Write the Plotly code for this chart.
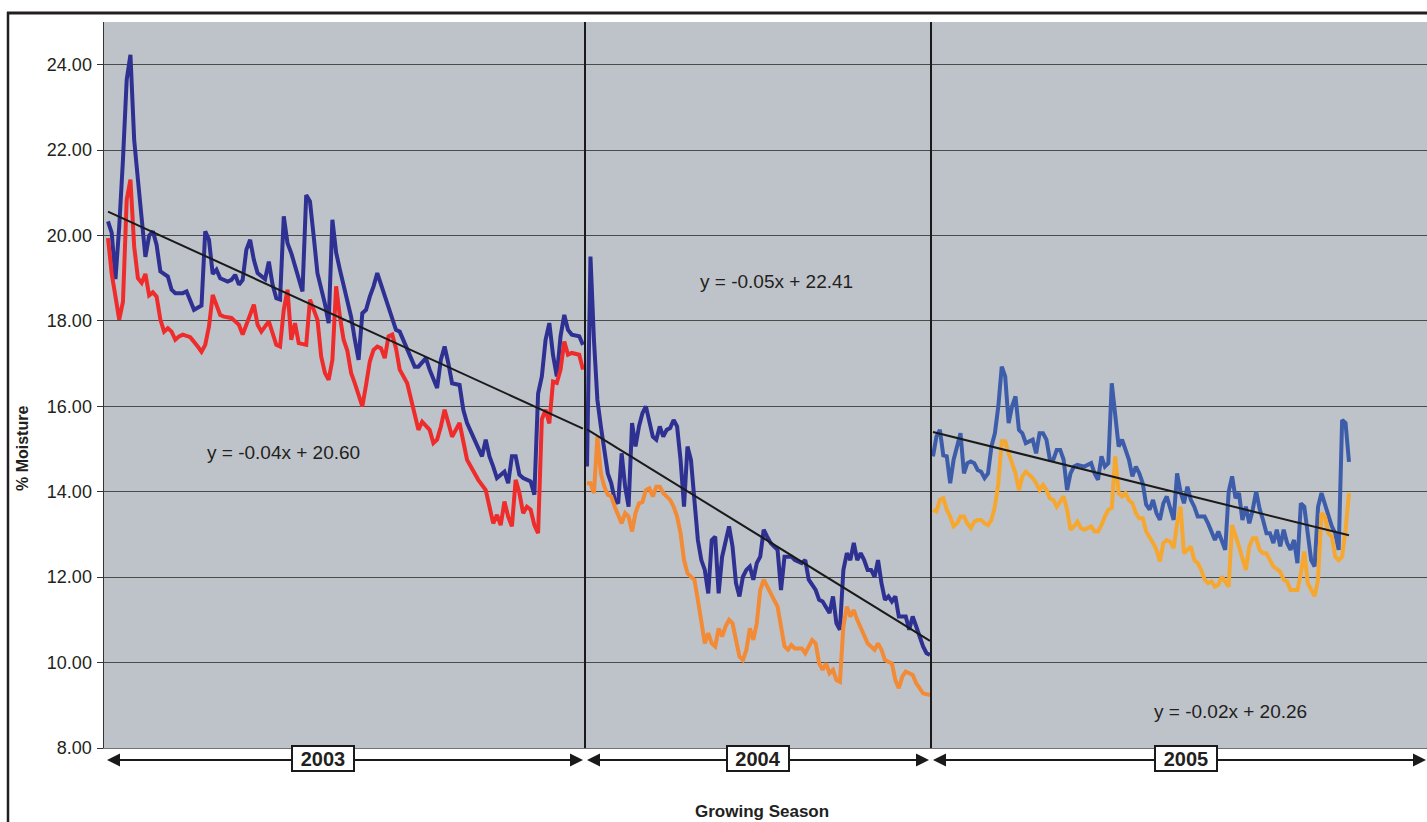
import plotly.graph_objects as go

# ---------------------------------------------------------------
# Soil moisture (%) by day of growing season, two probes (A upper, B lower)
# x = running day index used by the linear trend fits
# ---------------------------------------------------------------

# ---- 2003 ----
a_days_2003 = [1, 2, 3, 4, 5, 6, 7, 8, 9, 10, 11, 12, 13, 14, 15,
               17, 18, 19,
               21, 22, 23, 24,
               26, 27, 28, 29, 30, 31,
               33, 34, 35, 36, 37, 38, 39, 40, 41,
               43, 44, 45, 46, 47, 48, 49, 50,
               52, 53, 54, 55, 56, 57,
               59, 60, 61, 62, 63, 64, 65, 66, 67, 68, 69, 70, 71, 72, 73,
               75, 76, 77, 78, 79,
               81,
               83, 84,
               86, 87,
               89, 90, 91, 92, 93,
               95, 96, 97,
               99, 100, 101, 102, 103, 104, 105,
               107, 108, 109, 110, 111, 112,
               114, 115, 116, 117, 118, 119, 120, 121, 122, 123, 124, 125,
               127, 128]
a_moist_2003 = [20.33, 20.06, 18.98, 20.21, 21.77, 23.65, 24.23, 22.24, 21.31, 20.40, 19.50, 20.00, 20.10, 19.78, 19.16,
                19.04, 18.73, 18.65,
                18.65, 18.69, 18.44, 18.26,
                18.36, 20.10, 19.90, 19.10, 19.20, 19.00,
                18.92, 18.96, 19.08, 18.85, 18.96, 19.67, 19.90, 19.43, 19.12,
                18.98, 19.39, 18.85, 18.53, 18.50, 20.45, 19.82, 19.59,
                19.04, 18.69, 20.95, 20.80, 19.98, 19.12,
                18.40, 17.95, 20.37, 19.60, 19.20, 18.81, 18.50, 18.10, 17.56, 17.09, 18.18, 18.26, 18.57, 18.81, 19.12,
                18.57, 18.30, 18.03, 17.79, 17.75,
                17.32,
                16.93, 16.93,
                17.13, 16.86,
                16.43, 17.09, 17.40, 17.01, 16.54,
                16.50, 15.92, 15.61,
                15.22, 14.98, 14.83, 15.22, 14.83, 14.59, 14.32,
                14.47, 14.20, 14.83, 14.83, 14.40, 14.32,
                14.24, 13.93, 16.30, 16.70, 17.56, 17.95, 17.20, 16.70, 17.64, 18.14, 17.79, 17.68,
                17.64, 17.44]

b_days_2003 = [1, 2, 3, 4, 5, 6, 7, 8, 9, 10, 11, 12, 13, 14, 15, 16, 17, 18, 19, 20, 21, 22, 23,
               25, 26, 27, 28, 29, 30, 31, 32,
               34, 35, 36, 37, 38,
               40, 41, 42,
               44, 45, 46, 47, 48, 49, 50, 51, 52,
               54, 55,
               57, 58, 59, 60, 61, 62, 63, 64, 65, 66, 67, 68, 69, 70, 71, 72, 73, 74, 75, 76, 77, 78, 79,
               81, 82, 83, 84, 85,
               87, 88, 89, 90, 91, 92, 93,
               95, 96, 97, 98,
               100,
               102, 103, 104, 105, 106, 107, 108, 109, 110, 111, 112, 113, 114, 115, 116, 117, 118, 119,
               120, 121, 122, 123, 124, 125,
               127, 128]
b_moist_2003 = [19.94, 19.10, 18.57, 18.03, 18.45, 20.84, 21.31, 19.74, 19.00, 18.89, 19.10, 18.60, 18.67, 18.57,
                18.03, 17.75, 17.83, 17.75, 17.56, 17.64, 17.68, 17.64, 17.62,
                17.40, 17.28, 17.44, 17.87, 18.61, 18.34, 18.14, 18.10,
                18.07, 17.99, 17.91, 17.68, 17.91,
                18.38, 17.91, 17.75,
                17.99, 17.71, 17.44, 17.40, 18.26, 18.73, 17.56, 17.95, 17.48,
                17.44, 18.50,
                18.03, 17.17, 16.78, 16.62, 17.09, 18.81, 18.10, 17.56, 17.30, 16.78, 16.54, 16.30, 16.00, 16.50,
                17.05, 17.32, 17.40, 17.36, 17.13, 17.64, 17.68, 17.36, 16.86,
                16.54, 16.15, 15.76, 15.45, 15.64,
                15.45, 15.14, 15.22, 15.53, 15.92, 15.61, 15.29,
                15.61, 15.14, 14.75, 14.59,
                14.28,
                14.04, 13.65, 13.26, 13.46, 13.22, 13.77, 13.42, 13.19, 14.28, 13.97, 13.50, 13.65, 13.58, 13.22,
                13.03, 15.70, 15.92, 15.60,
                16.58, 16.55, 16.86, 17.52, 17.21, 17.25,
                17.21, 16.86]

# ---- 2004 ----
a_days_2004 = [139, 140, 141, 142, 143, 144, 145, 146, 147, 148, 149, 150, 151, 152, 153, 154, 155, 156, 157, 158,
               159, 160, 161, 162, 163, 164, 165, 166, 167, 168, 169, 170, 171, 172, 173, 174, 175, 176, 177, 178,
               179, 180, 181, 182, 183, 184, 185, 186, 187, 188, 189, 190, 191, 192,
               194, 195, 196,
               198, 199,
               201, 202, 203,
               205, 206, 207, 208, 209, 210, 211, 212, 213, 214, 215, 216, 217, 218, 219, 220, 221, 222, 223,
               224, 225, 226, 227, 228, 229, 230, 231, 232, 233, 234, 235, 236, 237, 238]
a_moist_2004 = [14.59, 19.51, 17.56, 16.15, 15.53, 14.90, 14.43, 14.20, 13.81, 13.73, 14.90, 14.12, 13.65, 15.61,
                15.06, 15.53, 15.84, 16.00, 15.68, 15.29,
                15.22, 15.53, 15.29, 15.45, 15.49, 15.68, 15.53, 14.75, 13.65, 15.06, 14.75, 13.81, 12.87, 12.40,
                12.17, 11.62, 12.87, 12.95, 11.62, 12.48,
                12.80, 13.19, 12.72, 11.86, 11.55, 12.01, 12.17, 12.25, 11.94, 12.33, 12.48, 13.11, 12.95, 12.80,
                12.64, 11.70, 12.48,
                12.48, 12.40,
                12.33, 12.40, 11.94,
                11.70, 11.47, 11.43, 11.31, 11.16, 11.55, 10.92, 10.77, 12.17, 12.56, 12.40, 12.80, 12.40, 12.56,
                12.40, 12.17, 12.17, 12.01, 12.40,
                11.86, 11.47, 11.55, 11.43, 11.55, 11.08, 11.08, 11.08, 10.77, 11.08, 10.85, 10.61, 10.38, 10.22,
                10.18]

b_days_2004 = [139, 140, 141, 142, 143, 144, 145, 146, 147, 148, 149, 150, 151, 152, 153, 154, 155, 156, 157, 158,
               159, 160, 161,
               163, 164, 165, 166, 167, 168, 169, 170, 171, 172, 173, 174, 175, 176, 177, 178, 179, 180, 181, 182,
               183, 184, 185, 186, 187, 188, 189, 190, 191, 192, 193, 194, 195, 196, 197, 198, 199,
               201, 202, 203, 204, 205, 206, 207, 208, 209, 210, 211, 212, 213, 214, 215, 216, 217,
               219, 220,
               222, 223, 224, 225, 226, 227, 228, 229, 230, 231,
               233, 234,
               236,
               238]
b_moist_2004 = [14.20, 14.20, 13.97, 15.29, 14.43, 14.12, 13.93, 13.89, 13.65, 13.42, 13.26, 13.50, 13.42, 13.07,
                13.50, 13.73, 13.76, 14.04, 14.08, 13.89,
                14.12, 14.12, 13.97,
                13.81, 13.65, 13.42, 13.03, 12.40, 12.09, 12.01, 11.94, 11.47, 10.92, 10.45, 10.69, 10.45, 10.38,
                10.80, 10.61, 10.85, 11.00, 10.92, 10.53,
                10.14, 10.06, 10.30, 10.80, 10.53, 10.92, 11.70, 11.94, 11.78, 11.62, 11.47, 11.31, 10.85, 10.38,
                10.30, 10.41, 10.33,
                10.33, 10.22, 10.38, 10.53, 10.45, 9.98, 9.83, 9.98, 9.75, 9.83, 9.59, 9.55, 10.85, 11.31, 11.08,
                11.23, 11.00,
                10.65, 10.45,
                10.30, 10.45, 10.30, 10.06, 10.02, 9.98, 9.59, 9.40, 9.67, 9.79,
                9.71, 9.52,
                9.28,
                9.24]

# ---- 2005 ----
a_days_2005 = [243, 244, 245, 246, 247, 248, 249, 250, 251, 252, 253, 254, 255, 256, 257, 258, 259, 260, 261, 262,
               263, 264, 265, 266, 267, 268, 269, 270,
               272, 273, 274, 275, 276, 277, 278, 279, 280, 281, 282, 283, 284, 285,
               287,
               289, 290, 291, 292, 293, 294, 295, 296, 297, 298, 299, 300, 301, 302, 303, 304, 305, 306, 307, 308,
               309, 310, 311, 312, 313, 314, 315, 316, 317, 318, 319, 320,
               322, 323, 324, 325, 326, 327, 328, 329, 330, 331, 332, 333, 334, 335, 336, 337, 338, 339, 340,
               341, 342, 343, 344, 345, 346, 347, 348, 349, 350, 351, 352, 353, 354, 355, 356, 357, 358, 359,
               360, 361, 362, 363, 364]
a_moist_2005 = [14.83, 15.29, 15.45, 14.85, 14.83, 14.20, 14.75, 15.06, 15.37, 14.43, 14.67, 14.71, 14.67, 14.51,
                14.47, 14.32, 14.43, 15.06, 15.37, 16.00,
                16.93, 16.70, 15.61, 16.00, 16.23, 15.45, 15.37, 15.14,
                15.22, 14.90, 15.37, 15.37, 15.22, 14.75, 14.75, 14.98, 14.98, 14.75, 14.04, 14.43, 14.59, 14.63,
                14.59,
                14.67, 14.43, 14.28, 14.83, 14.59, 14.67, 16.54, 15.84, 15.06, 15.22, 14.98, 14.75, 14.36, 14.59,
                14.43, 14.20, 13.70, 13.58, 13.81, 13.50,
                13.34, 13.73, 13.89, 13.58, 13.34, 14.43, 14.00, 13.73, 14.12, 13.81, 13.65, 13.42,
                13.42, 13.26, 13.05, 12.87, 13.07, 12.87, 12.64, 14.00, 14.36, 13.85, 13.97, 13.34, 13.65, 13.26,
                13.58, 14.01, 13.60, 13.34, 13.03,
                13.03, 12.80, 13.11, 12.72, 13.11, 12.80, 12.64, 12.87, 12.33, 13.73, 13.65, 12.95, 12.40, 12.25,
                13.65, 13.97, 13.73, 13.42, 13.19,
                13.03, 12.64, 15.68, 15.61, 14.70]

b_days_2005 = [243, 244, 245, 246, 247, 248, 249, 250, 251, 252, 253, 254, 255, 256, 257, 258, 259, 260, 261, 262,
               263, 264, 265, 266, 267, 268, 269, 270,
               272, 273, 274, 275, 276, 277, 278, 279,
               281, 282, 283, 284, 285, 286, 287,
               289, 290, 291, 292, 293, 294, 295, 296, 297, 298, 299, 300, 301, 302, 303, 304, 305, 306, 307, 308,
               309, 310, 311, 312, 313, 314, 315, 316, 317, 318, 319, 320, 321, 322, 323, 324, 325, 326, 327, 328,
               329, 330, 331, 332, 333, 334, 335, 336, 337, 338, 339, 340, 341, 342,
               344, 345, 346, 347, 348, 349, 350, 351, 352, 353, 354, 355, 356, 357, 358, 359, 360, 361, 362, 363,
               364]
b_moist_2005 = [13.58, 13.54, 13.81, 13.85, 13.58, 13.42, 13.19, 13.26, 13.42, 13.42, 13.26, 13.15, 13.30, 13.34,
                13.34, 13.26, 13.22, 13.34, 13.65, 14.20,
                15.18, 15.18, 14.90, 14.67, 14.43, 14.04, 14.36, 14.47,
                14.32, 14.20, 14.04, 14.16, 14.04, 13.85, 13.81, 13.65,
                13.89, 13.58, 13.11, 13.19, 13.30, 13.15, 13.11,
                13.19, 13.07, 13.07, 13.22, 13.42, 13.58, 13.62, 14.83, 13.97, 13.89, 13.97, 13.80, 13.73, 13.50,
                13.38, 13.38, 13.07, 12.95, 12.80, 12.64,
                12.37, 12.80, 12.87, 12.83, 12.68, 13.26, 13.65, 12.56, 12.64, 12.72, 12.40, 12.33, 12.17, 11.94,
                11.86, 11.90, 11.78, 11.82, 12.01, 11.90,
                11.78, 13.22, 12.99, 12.72, 12.44, 12.17, 12.72, 12.91, 12.91, 12.64, 12.56, 12.56, 12.40, 12.25,
                12.13, 11.94, 11.90, 11.70, 11.70, 11.70, 12.09, 12.60, 11.86, 11.70, 11.55, 11.94, 13.50, 13.42,
                13.03, 12.95, 12.48, 12.40, 12.48, 13.11,
                13.97]

SEASONS = ["2003", "2004", "2005"]
TREND_SLOPE = [-0.04, -0.05, -0.02]
TREND_INTERCEPT = [20.60, 22.41, 20.26]
Y_TICKS = [8, 10, 12, 14, 16, 18, 20, 22, 24]

A_SERIES = [(a_days_2003, a_moist_2003), (a_days_2004, a_moist_2004), (a_days_2005, a_moist_2005)]
B_SERIES = [(b_days_2003, b_moist_2003), (b_days_2004, b_moist_2004), (b_days_2005, b_moist_2005)]
for d, v in A_SERIES + B_SERIES:
    assert len(d) == len(v), (len(d), len(v))

# ---- page geometry ----
W, H = 1427, 822
ML, MT, MB = 104, 22, 74
PW, PH = W - ML, H - MT - MB


def fx(px):
    return (px - ML) / PW


def fy(py):
    return (H - MB - py) / PH


A_COLORS = ["#2E3192", "#2E3192", "#3D5DAA"]
B_COLORS = ["#EE2C2C", "#F28A36", "#F6A730"]
AXES = ["x", "x2", "x3"]
DOMAINS = [[0, fx(585)], [fx(585), fx(931)], [fx(931), 1]]
X_RANGES = [[-0.07, 128.54], [138.42, 238.29], [242.42, 386.69]]

FONT = "Arial, 'Liberation Sans', sans-serif"
INK = "#231F20"

fig = go.Figure()

for i in range(3):
    ad, av = A_SERIES[i]
    bd, bv = B_SERIES[i]
    fig.add_trace(go.Scatter(x=ad, y=av, mode="lines", xaxis=AXES[i], yaxis="y",
                             line=dict(color=A_COLORS[i], width=4), hoverinfo="skip"))
    fig.add_trace(go.Scatter(x=bd, y=bv, mode="lines", xaxis=AXES[i], yaxis="y",
                             line=dict(color=B_COLORS[i], width=4), hoverinfo="skip"))
    # linear trend of probe A for the season
    x0, x1 = min(ad), max(ad)
    fig.add_trace(go.Scatter(x=[x0, x1],
                             y=[TREND_SLOPE[i] * x0 + TREND_INTERCEPT[i], TREND_SLOPE[i] * x1 + TREND_INTERCEPT[i]],
                             mode="lines", xaxis=AXES[i], yaxis="y",
                             line=dict(color="#1A1A1A", width=2), hoverinfo="skip"))

xaxis_common = dict(showgrid=False, zeroline=False, showticklabels=False, ticks="",
                    showline=True, linecolor="#6E7178", linewidth=1, anchor="y", fixedrange=True)

layout = dict(
    width=W, height=H,
    margin=dict(l=ML, r=0, t=MT, b=MB, pad=0),
    autosize=False,
    paper_bgcolor="white",
    plot_bgcolor="#BEC3CA",
    showlegend=False,
    yaxis=dict(range=[8, 25], tickvals=Y_TICKS, tickformat=".2f",
               showgrid=True, gridcolor="#4A4A4A", gridwidth=1,
               zeroline=False, showline=True, linecolor="#333333", linewidth=1.5,
               ticks="outside", ticklen=6, tickcolor="#333333", tickwidth=1,
               ticklabelstandoff=1,
               tickfont=dict(family=FONT, size=18, color=INK), anchor="x", fixedrange=True),
)
for i, ax in enumerate(["xaxis", "xaxis2", "xaxis3"]):
    layout[ax] = dict(xaxis_common, domain=DOMAINS[i], range=X_RANGES[i])
fig.update_layout(**layout)

# season separators
for ref in ["x2 domain", "x3 domain"]:
    fig.add_shape(type="line", xref=ref, yref="paper", x0=0, x1=0, y0=0, y1=1,
                  line=dict(color="#1A1A1A", width=2))

# outer frame: left edge and top edge (right/bottom edges fall past the page)
fig.add_shape(type="line", xref="paper", yref="paper", x0=fx(8), x1=fx(8), y0=fy(H + 20), y1=fy(12),
              line=dict(color=INK, width=2.5))
fig.add_shape(type="line", xref="paper", yref="paper", x0=fx(7), x1=fx(W + 20), y0=fy(13), y1=fy(13),
              line=dict(color=INK, width=3))

# season arrows with boxed year labels
ARROW_Y = fy(760)
SPANS = [(107, 583), (587, 929), (933, 1431)]
BOX_CX = [322.5, 757.5, 1186]
for i, (left, right) in enumerate(SPANS):
    cx = BOX_CX[i]
    for tip in (left, right):
        fig.add_annotation(x=fx(tip), y=ARROW_Y, xref="paper", yref="paper", text="",
                           showarrow=True, ax=cx - tip, ay=0, arrowhead=2, arrowsize=1.3,
                           arrowwidth=2, arrowcolor="#1A1A1A", standoff=0)
    fig.add_annotation(x=fx(cx), y=fy(758.5), xref="paper", yref="paper",
                       xanchor="center", yanchor="middle",
                       text="<b>%s</b>" % SEASONS[i], showarrow=False,
                       bgcolor="white", bordercolor="#1A1A1A", borderwidth=2, borderpad=1,
                       width=58, height=21,
                       font=dict(family=FONT, size=20, color=INK))

# trend equations
EQ_POS = [(283, 452), (776, 281), (1230, 711)]
for i, (px, py) in enumerate(EQ_POS):
    fig.add_annotation(x=fx(px), y=fy(py), xref="paper", yref="paper", showarrow=False,
                       xanchor="center", yanchor="middle",
                       text="y = %.2fx + %.2f" % (TREND_SLOPE[i], TREND_INTERCEPT[i]),
                       font=dict(family=FONT, size=19, color=INK))

# axis titles
fig.add_annotation(x=fx(22), y=fy(449), xref="paper", yref="paper", showarrow=False, textangle=-90,
                   xanchor="center", yanchor="middle",
                   text="<b>% Moisture</b>", font=dict(family=FONT, size=16, color=INK))
fig.add_annotation(x=fx(762), y=fy(811), xref="paper", yref="paper", showarrow=False,
                   xanchor="center", yanchor="middle",
                   text="<b>Growing Season</b>", font=dict(family=FONT, size=17, color=INK))

fig.write_html("out.html", config={"displayModeBar": False, "staticPlot": True})
